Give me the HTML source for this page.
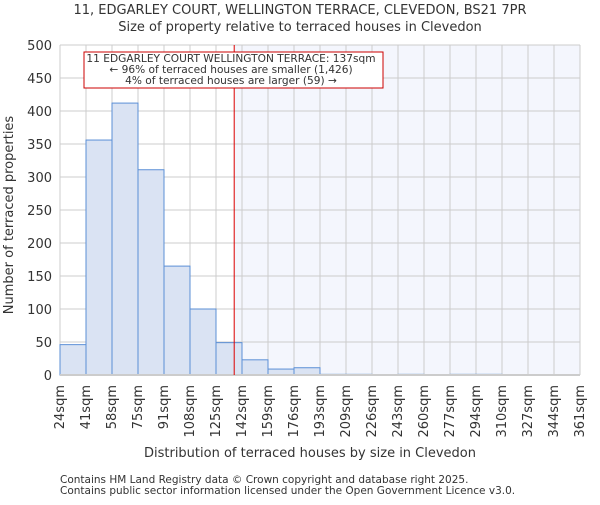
<!DOCTYPE html>
<html><head><meta charset="utf-8"><style>body{margin:0;background:#fff}svg text{font-family:"DejaVu Sans","Liberation Sans",sans-serif;fill:#333}</style></head>
<body>
<svg id="c" width="600" height="500"></svg>
<script>
const binLabels=["24sqm","41sqm","58sqm","75sqm","91sqm","108sqm","125sqm","142sqm","159sqm","176sqm","193sqm","209sqm","226sqm","243sqm","260sqm","277sqm","294sqm","310sqm","327sqm","344sqm","361sqm"];
const counts=[46,356,412,311,165,100,49,23,9,11,1,1,0,1,0,1,1,0,0,0];
const yTicks=[0,50,100,150,200,250,300,350,400,450,500];
const markerBin=6.7;
const L=60,R=580,T=45,B=375,NS="http://www.w3.org/2000/svg";
const svg=document.getElementById('c');
const xs=i=>L+i*(R-L)/counts.length;
const ys=v=>B-v*(B-T)/500;
function mk(t,a,p){const e=document.createElementNS(NS,t);for(const k in a)e.setAttribute(k,a[k]);(p||svg).appendChild(e);return e;}
let e;
e=mk('rect',{x:L,y:T,width:R-L,height:B-T,fill:'#fff'});


e=mk('rect',{x:xs(markerBin),y:T,width:R-xs(markerBin),height:B-T,fill:'#f4f6fd'});


yTicks.forEach(v=>{
 e=mk('line',{x1:L,x2:R,y1:ys(v),y2:ys(v),stroke:'#ccc'});
 
 
 e=mk('text',{x:L-8,y:ys(v)+5,'text-anchor':'end','font-size':13});e.textContent=v;
 
 
});
binLabels.forEach((l,i)=>{
 e=mk('line',{x1:xs(i),x2:xs(i),y1:T,y2:B,stroke:'#ccc'});
 
 
 const x=xs(i)+4;
 e=mk('text',{x:x,y:B+10,'text-anchor':'end','font-size':13,transform:`rotate(-90 ${x} ${B+10})`});e.textContent=l;
 
 
});
counts.forEach((v,i)=>{
 e=mk('rect',{x:xs(i),y:ys(v),width:xs(i+1)-xs(i),height:B-ys(v),fill:'#dae3f3',stroke:'#5b8fd6','stroke-width':1});
 
 
});
e=mk('line',{x1:L,x2:R,y1:B,y2:B,stroke:'#ccc','stroke-width':2});


e=mk('line',{x1:xs(markerBin),x2:xs(markerBin),y1:T,y2:B,stroke:'#d00','stroke-width':1});


e=mk('rect',{x:84,y:52,width:299,height:36,fill:'#fff',stroke:'#c00'});


[["11 EDGARLEY COURT WELLINGTON TERRACE: 137sqm",62],["← 96% of terraced houses are smaller (1,426)",73],["4% of terraced houses are larger (59) →",84]].forEach(([t,y])=>{
 e=mk('text',{x:231,y:y,'text-anchor':'middle','font-size':10.6});e.textContent=t;
 
 
});
e=mk('text',{x:300,y:14,'text-anchor':'middle','font-size':13});e.textContent="11, EDGARLEY COURT, WELLINGTON TERRACE, CLEVEDON, BS21 7PR";


e=mk('text',{x:300,y:31,'text-anchor':'middle','font-size':13});e.textContent="Size of property relative to terraced houses in Clevedon";


e=mk('text',{x:310,y:457,'text-anchor':'middle','font-size':13});e.textContent="Distribution of terraced houses by size in Clevedon";


e=mk('text',{x:13,y:215,'text-anchor':'middle','font-size':13,transform:'rotate(-90 13 215)'});e.textContent="Number of terraced properties";


e=mk('text',{x:60,y:483,'font-size':10.5});e.textContent="Contains HM Land Registry data © Crown copyright and database right 2025.";


e=mk('text',{x:60,y:494,'font-size':10.5});e.textContent="Contains public sector information licensed under the Open Government Licence v3.0.";


</script>
</body></html>
